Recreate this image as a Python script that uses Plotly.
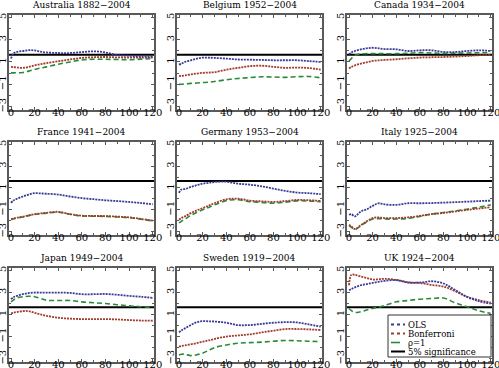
import plotly.graph_objects as go

X = [0, 2, 5, 10, 15, 20, 25, 30, 40, 50, 60, 70, 80, 90, 100, 110, 120]
SIG = 1.645
X_TICKS = [0, 20, 40, 60, 80, 100, 120]
Y_TICKS = [-3, -1, 1, 3, 5]

TITLES = ["Australia 1882\u22122004", "Belgium 1952\u22122004", "Canada 1934\u22122004",
          "France 1941\u22122004", "Germany 1953\u22122004", "Italy 1925\u22122004",
          "Japan 1949\u22122004", "Sweden 1919\u22122004", "UK 1924\u22122004"]

AUS_OLS = [1.3, 1.75, 1.9, 1.98, 2.05, 2.03, 1.92, 1.85, 1.8, 1.8, 1.88, 1.95, 1.85, 1.62, 1.55, 1.5, 1.48]
AUS_BON = [0.56, 0.54, 0.5, 0.47, 0.55, 0.7, 0.8, 0.9, 1.06, 1.22, 1.36, 1.42, 1.44, 1.41, 1.39, 1.39, 1.39]
AUS_RHO = [0.02, 0.02, 0.03, 0.05, 0.18, 0.32, 0.45, 0.56, 0.8, 1.0, 1.18, 1.24, 1.24, 1.22, 1.2, 1.25, 1.3]

BEL_OLS = [0.76, 0.85, 1.0, 1.15, 1.3, 1.39, 1.38, 1.36, 1.3, 1.22, 1.2, 1.18, 1.15, 1.15, 1.15, 1.08, 1.0]
BEL_BON = [-0.27, -0.25, -0.2, -0.12, -0.04, 0.02, 0.05, 0.08, 0.3, 0.47, 0.62, 0.66, 0.56, 0.47, 0.5, 0.45, 0.32]
BEL_RHO = [-1.01, -1.0, -0.97, -0.92, -0.88, -0.84, -0.82, -0.75, -0.6, -0.48, -0.4, -0.33, -0.35, -0.38, -0.32, -0.3, -0.42]

CAN_OLS = [1.68, 1.85, 1.98, 2.13, 2.22, 2.27, 2.22, 2.15, 2.13, 1.98, 2.04, 2.04, 1.89, 1.89, 1.98, 2.04, 1.98]
CAN_BON = [0.41, 0.55, 0.7, 0.85, 0.97, 1.09, 1.14, 1.18, 1.24, 1.32, 1.39, 1.42, 1.44, 1.48, 1.53, 1.6, 1.65]
CAN_RHO = [1.09, 1.3, 1.6, 1.72, 1.74, 1.74, 1.74, 1.74, 1.74, 1.78, 1.83, 1.8, 1.76, 1.78, 1.8, 1.82, 1.83]

FRA_OLS = [-0.37, -0.15, 0.01, 0.22, 0.4, 0.52, 0.5, 0.47, 0.4, 0.22, 0.07, -0.03, -0.13, -0.2, -0.28, -0.38, -0.49]
FRA_BON = [-1.84, -1.8, -1.72, -1.63, -1.5, -1.39, -1.33, -1.27, -1.18, -1.39, -1.54, -1.56, -1.57, -1.62, -1.69, -1.83, -1.99]
FRA_RHO = [-1.87, -1.83, -1.75, -1.66, -1.53, -1.42, -1.36, -1.3, -1.22, -1.41, -1.56, -1.58, -1.6, -1.65, -1.72, -1.85, -2.02]

GER_OLS = [0.55, 0.85, 0.9, 1.09, 1.25, 1.39, 1.47, 1.54, 1.57, 1.39, 1.3, 1.15, 0.94, 0.73, 0.58, 0.52, 0.43]
GER_BON = [-1.9, -1.75, -1.6, -1.3, -1.05, -0.85, -0.62, -0.4, -0.04, 0.02, -0.16, -0.22, -0.28, -0.2, -0.1, -0.12, -0.19]
GER_RHO = [-2.2, -2.05, -1.85, -1.5, -1.25, -1.0, -0.78, -0.55, -0.16, -0.08, -0.25, -0.32, -0.4, -0.3, -0.18, -0.2, -0.25]

ITA_OLS = [-1.45, -1.4, -1.6, -1.15, -0.95, -0.64, -0.4, -0.5, -0.55, -0.4, -0.4, -0.38, -0.34, -0.3, -0.25, -0.2, -0.16]
ITA_BON = [-2.36, -2.5, -2.76, -2.4, -2.05, -1.75, -1.7, -1.75, -1.75, -1.69, -1.55, -1.39, -1.28, -1.15, -1.0, -0.88, -0.76]
ITA_RHO = [-2.45, -2.6, -2.8, -2.45, -2.1, -1.84, -1.8, -1.84, -1.84, -1.78, -1.6, -1.4, -1.25, -1.1, -0.94, -0.75, -0.55]

JPN_OLS = [2.38, 2.55, 2.68, 2.83, 2.93, 2.98, 2.98, 2.98, 2.97, 2.95, 2.83, 2.83, 2.85, 2.78, 2.68, 2.6, 2.5]
JPN_BON = [1.09, 1.15, 1.22, 1.3, 1.3, 1.15, 1.0, 0.88, 0.7, 0.62, 0.58, 0.58, 0.58, 0.55, 0.49, 0.45, 0.43]
JPN_RHO = [2.14, 2.3, 2.5, 2.59, 2.65, 2.6, 2.45, 2.29, 2.26, 2.26, 2.14, 2.06, 1.99, 1.88, 1.78, 1.7, 1.63]

SWE_OLS = [-0.62, -0.45, -0.26, 0.05, 0.3, 0.4, 0.38, 0.36, 0.25, 0.04, 0.04, 0.15, 0.25, 0.3, 0.28, 0.1, -0.11]
SWE_BON = [-1.91, -1.85, -1.8, -1.7, -1.6, -1.46, -1.35, -1.22, -1.0, -0.9, -0.8, -0.62, -0.47, -0.32, -0.32, -0.35, -0.41]
SWE_RHO = [-2.66, -2.6, -2.6, -2.72, -2.65, -2.5, -2.25, -2.0, -1.76, -1.6, -1.55, -1.5, -1.42, -1.35, -1.38, -1.42, -1.46]

UK_OLS = [3.19, 3.3, 3.45, 3.64, 3.75, 3.85, 3.95, 4.03, 4.1, 3.88, 3.88, 4.0, 3.8, 3.2, 2.59, 2.2, 1.99]
UK_BON = [3.64, 4.58, 4.58, 4.43, 4.3, 4.16, 4.18, 4.22, 4.13, 3.91, 3.85, 3.67, 3.52, 3.1, 2.59, 2.29, 2.08]
UK_RHO = [1.54, 1.35, 1.18, 1.25, 1.4, 1.54, 1.65, 1.8, 2.14, 2.26, 2.38, 2.44, 2.48, 2.05, 1.7, 1.33, 1.09]

PANELS = [(AUS_OLS, AUS_BON, AUS_RHO), (BEL_OLS, BEL_BON, BEL_RHO), (CAN_OLS, CAN_BON, CAN_RHO),
          (FRA_OLS, FRA_BON, FRA_RHO), (GER_OLS, GER_BON, GER_RHO), (ITA_OLS, ITA_BON, ITA_RHO),
          (JPN_OLS, JPN_BON, JPN_RHO), (SWE_OLS, SWE_BON, SWE_RHO), (UK_OLS, UK_BON, UK_RHO)]

LEGEND_NAMES = ["OLS", "Bonferroni", "\u03c1=1", "5% significance"]

W, H = 499, 368
COLS_PX = [(9, 154), (177, 322), (347, 492)]
ROWS_PX = [(15, 110), (142, 235), (268, 362)]
XR = [-1.7, 121.1]
YR = [-3.3, 5.2]


def px(v):
    return v / W


def py(v):
    return 1 - v / H


C_OLS = "#3a3a96"
C_BON = "#a03c2c"
C_RHO = "#2a8a3a"
C_SIG = "#000000"
FRAME = "#5a5a5a"
FONT = "DejaVu Serif"

fig = go.Figure()
layout = dict(width=W, height=H, margin=dict(l=0, r=0, t=0, b=0, pad=0),
              paper_bgcolor="white", plot_bgcolor="white", showlegend=False)
annotations = []
shapes = []

for i, (ols, bon, rho) in enumerate(PANELS):
    r, c = divmod(i, 3)
    n = "" if i == 0 else str(i + 1)
    x0, x1 = COLS_PX[c]
    y0, y1 = ROWS_PX[r]
    xd = [px(x0), px(x1)]
    yd = [py(y1), py(y0)]
    layout["xaxis" + n] = dict(domain=xd, range=XR, anchor="y" + n, tickvals=X_TICKS,
                               ticks="inside", ticklen=3, tickcolor=FRAME, mirror="ticks",
                               showline=True, linecolor=FRAME, linewidth=2, showgrid=False,
                               zeroline=False, tickfont=dict(family=FONT, size=10, color="black"),
                               minor=dict(dtick=10, ticks="inside", ticklen=2, tickcolor=FRAME),
                               ticklabelstandoff=-8, ticklabeloverflow="allow",
                               fixedrange=True, automargin=False)
    layout["yaxis" + n] = dict(domain=yd, range=YR, anchor="x" + n, tickvals=Y_TICKS,
                               ticks="inside", ticklen=3, tickcolor=FRAME, mirror="ticks",
                               showline=True, linecolor=FRAME, linewidth=2, showgrid=False,
                               zeroline=False, tickangle=-90,
                               tickfont=dict(family=FONT, size=10, color="black"),
                               minor=dict(dtick=1, ticks="inside", ticklen=2, tickcolor=FRAME),
                               ticklabelstandoff=-3, ticklabeloverflow="allow",
                               fixedrange=True, automargin=False)
    xa, ya = "x" + n, "y" + n
    fig.add_trace(go.Scatter(x=[XR[0], XR[1]], y=[SIG, SIG], mode="lines", xaxis=xa, yaxis=ya,
                             line=dict(color=C_SIG, width=2), name=LEGEND_NAMES[3]))
    fig.add_trace(go.Scatter(x=X, y=rho, mode="lines", xaxis=xa, yaxis=ya, line_shape="spline",
                             line=dict(color=C_RHO, width=1.6, dash="5px,3px"), name=LEGEND_NAMES[2]))
    fig.add_trace(go.Scatter(x=X, y=bon, mode="lines", xaxis=xa, yaxis=ya, line_shape="spline",
                             line=dict(color=C_BON, width=1.8, dash="2px,1px"), name=LEGEND_NAMES[1]))
    fig.add_trace(go.Scatter(x=X, y=ols, mode="lines", xaxis=xa, yaxis=ya, line_shape="spline",
                             line=dict(color=C_OLS, width=1.8, dash="2px,1px"), name=LEGEND_NAMES[0]))
    annotations.append(dict(text=TITLES[i], x=(xd[0] + xd[1]) / 2, y=yd[1], xref="paper", yref="paper",
                            xanchor="center", yanchor="bottom", yshift=3, showarrow=False,
                            font=dict(family=FONT, size=9, color="black")))

# custom compact legend in the UK panel
lx0, lx1, ly0, ly1 = 388, 491, 315, 357
shapes.append(dict(type="rect", xref="paper", yref="paper", x0=px(lx0), x1=px(lx1),
                   y0=py(ly1), y1=py(ly0), line=dict(color="#333333", width=1),
                   fillcolor="white", layer="above"))
rows_y = [324.5, 333.5, 342.5, 351.5]
styles = [dict(color=C_OLS, width=1.8, dash="dot"), dict(color=C_BON, width=1.8, dash="dot"),
          dict(color=C_RHO, width=1.6, dash="dash"), dict(color=C_SIG, width=2)]
for ry, st, nm in zip(rows_y, styles, LEGEND_NAMES):
    shapes.append(dict(type="line", xref="paper", yref="paper", x0=px(391), x1=px(405),
                       y0=py(ry), y1=py(ry), line=st, layer="above"))
    annotations.append(dict(text=nm, x=px(406), y=py(ry), xref="paper", yref="paper",
                            xanchor="left", yanchor="middle", showarrow=False,
                            font=dict(family=FONT, size=8.5, color="black")))

layout["annotations"] = annotations
layout["shapes"] = shapes
fig.update_layout(**layout)
fig.write_html("out.html", config={"displayModeBar": False},
               post_script="document.body.style.margin='0px';document.body.style.overflow='hidden';")
